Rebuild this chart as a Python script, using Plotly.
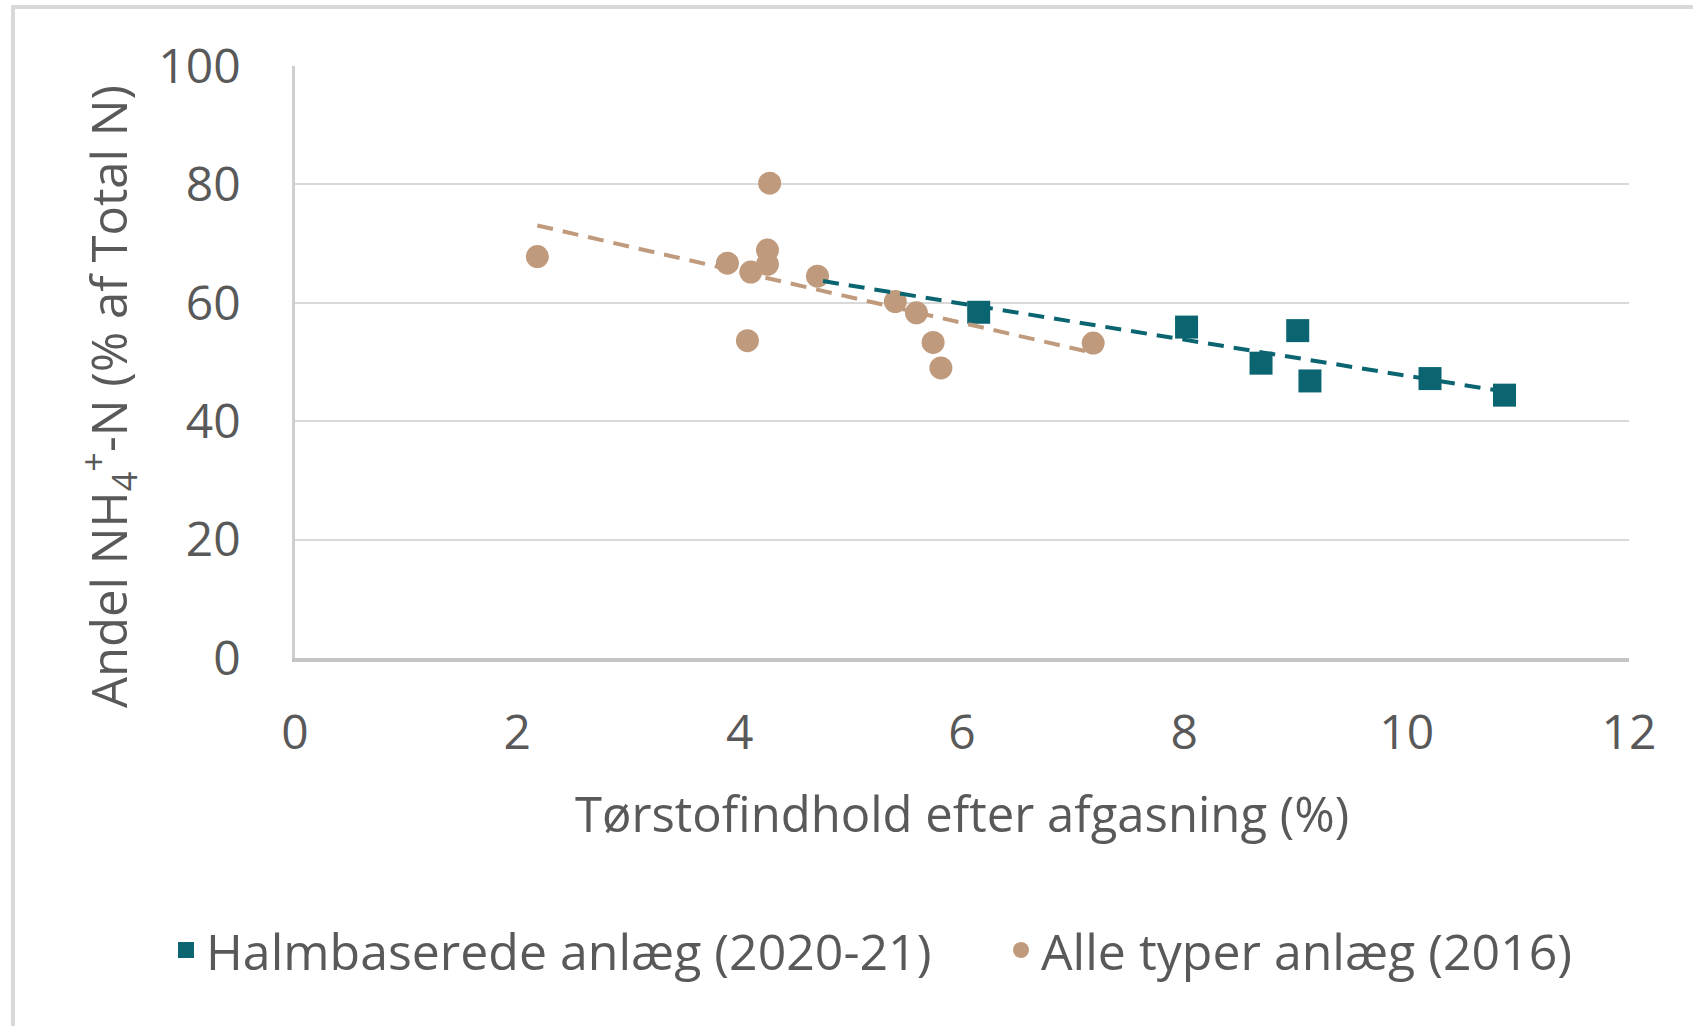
import numpy as np
import plotly.graph_objects as go

# ---- data ----
halm_x = [6.15, 8.02, 9.02, 8.69, 9.13, 10.21, 10.88]
halm_y = [58.4, 55.9, 55.3, 49.8, 46.8, 47.2, 44.4]

alle_x = [2.18, 4.27, 3.89, 4.10, 4.25, 4.25, 4.07, 4.70, 5.40, 5.59, 5.74, 5.81, 7.18]
alle_y = [67.8, 80.2, 66.7, 65.2, 68.9, 66.5, 53.6, 64.5, 60.2, 58.3, 53.3, 49.0, 53.2]

halm_name = "Halmbaserede anlæg (2020-21)"
alle_name = "Alle typer anlæg (2016)"
halm_trend_backward = 1.4  # trendline forecast backward (x units)

x_ticks = [0, 2, 4, 6, 8, 10, 12]
y_ticks = [0, 20, 40, 60, 80, 100]

x_title = "Tørstofindhold efter afgasning (%)"
y_title = "Andel NH<sub>4</sub><sup>+</sup>-N (% af Total N)"

TEAL = "#0B6571"
TAN = "#C09A7C"
TEXT = "#595959"
FONT = "Open Sans"

# linear trendlines (as Excel's linear trendline)
hs, hi = np.polyfit(halm_x, halm_y, 1)
as_, ai = np.polyfit(alle_x, alle_y, 1)
halm_tx = np.array([min(halm_x) - halm_trend_backward, max(halm_x)])
alle_tx = np.array([min(alle_x), max(alle_x)])

fig = go.Figure()
fig.add_trace(go.Scatter(x=halm_x, y=halm_y, mode="markers", name=halm_name, legend="legend",
                         marker=dict(symbol="square", size=23, color=TEAL)))
fig.add_trace(go.Scatter(x=alle_x, y=alle_y, mode="markers", name=alle_name, legend="legend2",
                         marker=dict(symbol="circle", size=23, color=TAN)))
fig.add_trace(go.Scatter(x=alle_tx, y=as_ * alle_tx + ai, mode="lines", showlegend=False,
                         line=dict(color=TAN, width=4, dash="16px,10px"), hoverinfo="skip"))
fig.add_trace(go.Scatter(x=halm_tx, y=hs * halm_tx + hi, mode="lines", showlegend=False,
                         line=dict(color=TEAL, width=4, dash="16px,10px"), hoverinfo="skip"))

W, H = 1693, 1026
L, R, T, B = 295, 64, 66, 368
PW, PH = W - L - R, H - T - B

legend_common = dict(orientation="h", xanchor="left", yanchor="middle",
                     font=dict(size=50, color=TEXT, family=FONT),
                     itemsizing="trace", bgcolor="rgba(0,0,0,0)")
LEG_Y = -(950 - (H - B)) / PH

fig.update_layout(
    width=W, height=H,
    margin=dict(l=L, r=R, t=T, b=B),
    paper_bgcolor="white", plot_bgcolor="white",
    font=dict(family=FONT, color=TEXT, size=48),
    showlegend=True,
    legend=dict(x=(166 - L) / PW, y=LEG_Y, **legend_common),
    legend2=dict(x=(1001 - L) / PW, y=LEG_Y, **legend_common),
    xaxis=dict(range=[0, 12], tickvals=x_ticks, ticktext=[str(v) for v in x_ticks],
               showgrid=False, zeroline=False, showline=True, linecolor="#C4C4C4",
               linewidth=4, ticks="", ticklabelstandoff=29,
               tickfont=dict(size=48, color=TEXT, family=FONT)),
    yaxis=dict(range=[0, 100], tickvals=y_ticks, ticktext=[str(v) for v in y_ticks],
               showgrid=True, gridcolor="#D9D9D9", gridwidth=2, zeroline=False,
               showline=True, linecolor="#CFCFCF", linewidth=2.5, ticks="",
               ticklabelstandoff=42,
               tickfont=dict(size=48, color=TEXT, family=FONT)),
    annotations=[
        dict(text=x_title, xref="paper", yref="paper", x=0.5, y=-(813 - (H - B)) / PH,
             xanchor="center", yanchor="middle", showarrow=False,
             font=dict(size=49, color=TEXT, family=FONT)),
        dict(text=y_title, xref="paper", yref="paper", x=-(L - 108) / PW, y=1 - (397 - T) / PH,
             xanchor="center", yanchor="middle", showarrow=False, textangle=-90,
             font=dict(size=49, color=TEXT, family=FONT)),
    ],
    shapes=[
        dict(type="line", xref="paper", yref="paper", x0=-(L - 11) / PW, x1=(W - L) / PW,
             y0=1 + (T - 7) / PH, y1=1 + (T - 7) / PH,
             line=dict(color="#D9D9D9", width=4)),
        dict(type="line", xref="paper", yref="paper", x0=-(L - 13) / PW, x1=-(L - 13) / PW,
             y0=-B / PH, y1=1 + (T - 5) / PH,
             line=dict(color="#D9D9D9", width=4)),
    ],
)

fig.write_html("out.html", config={"displayModeBar": False},
               post_script="document.body.style.margin='0';document.body.style.overflow='hidden';")
